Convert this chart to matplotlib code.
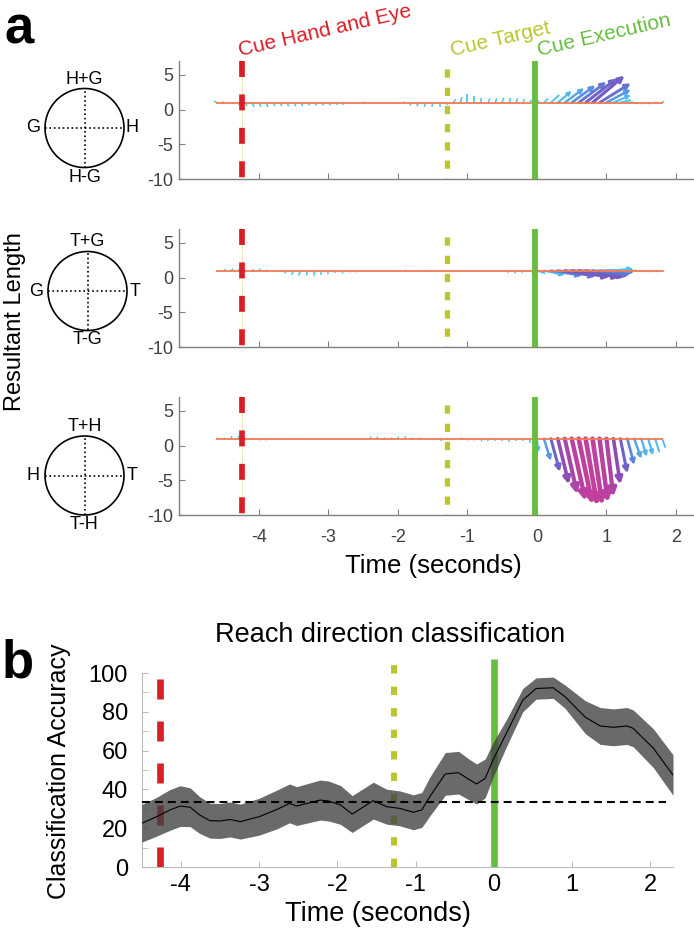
import numpy as np
import matplotlib
matplotlib.use('Agg')
import matplotlib.pyplot as plt
from matplotlib.colors import LinearSegmentedColormap, Normalize
from matplotlib.patches import FancyArrowPatch, Circle

plt.rcParams['font.family'] = ['Liberation Sans', 'DejaVu Sans']
plt.rcParams['axes.unicode_minus'] = False

# ---------------- panel a: resultant vectors ----------------
times = [-4.6, -4.5, -4.4, -4.3, -4.2, -4.1, -4.0, -3.9, -3.8, -3.7,
         -3.6, -3.5, -3.4, -3.3, -3.2, -3.1, -3.0, -2.9, -2.8, -2.7,
         -2.6, -2.5, -2.4, -2.3, -2.2, -2.1, -2.0, -1.9, -1.8, -1.7,
         -1.6, -1.5, -1.4, -1.3, -1.2, -1.1, -1.0, -0.9, -0.8, -0.7,
         -0.6, -0.5, -0.4, -0.3, -0.2, -0.1, 0.0, 0.1, 0.2, 0.3,
         0.4, 0.5, 0.6, 0.7, 0.8, 0.9, 1.0, 1.1, 1.2, 1.3,
         1.4, 1.5, 1.6, 1.7, 1.8]
baseline = 1.0

# hand vs gaze
hg_dx = [-0.05, -0.04, 0.0, 0.03, 0.03, 0.03, 0.03, 0.03, 0.03, 0.03,
         0.03, 0.03, 0.03, 0.03, 0.03, 0.03, 0.03, 0.03, 0.02, 0.0,
         0.0, 0.0, 0.0, 0.0, 0.0, 0.0, 0.0, -0.03, -0.03, -0.03,
         -0.02, -0.01, 0.0, 0.0, 0.03, 0.02, 0.0, 0.0, 0.0, 0.02,
         0.02, 0.02, 0.02, 0.02, 0.02, 0.02, 0.03, 0.06, 0.12, 0.2,
         0.28, 0.34, 0.4, 0.45, 0.46, 0.45, 0.35, 0.25, 0.15, 0.08,
         0.05, 0.03, 0.02, 0.02, 0.03]
hg_dy = [0.2, 0.1, 0.0, -0.4, -0.5, -0.6, -0.6, -0.6, -0.5, -0.5,
         -0.5, -0.5, -0.5, -0.4, -0.4, -0.4, -0.4, -0.3, -0.3, 0.0,
         0.1, 0.2, 0.0, 0.0, 0.0, 0.0, 0.0, 0.1, -0.4, -0.5,
         -0.6, -0.6, -0.6, -0.4, 0.5, 0.8, 1.3, 1.0, 0.7, 0.6,
         0.6, 0.7, 0.7, 0.6, 0.5, 0.4, 0.3, 0.6, 1.1, 1.7,
         2.1, 2.5, 3.0, 3.5, 3.9, 2.8, 1.9, 1.1, 0.4, 0.1,
         0.0, 0.0, 0.0, 0.1, 0.2]

# target vs gaze
tg_dx = [0.0, 0.02, 0.03, 0.02, 0.0, 0.02, 0.02, 0.0, 0.0, 0.0,
         -0.03, -0.03, -0.03, -0.02, -0.01, -0.01, -0.01, 0.0, 0.0, 0.0,
         0.0, 0.0, 0.0, 0.0, 0.0, 0.0, 0.0, 0.02, 0.0, 0.0,
         -0.02, -0.02, 0.0, 0.0, 0.0, 0.0, 0.0, 0.0, 0.0, 0.0,
         0.0, 0.0, -0.02, -0.02, -0.02, 0.03, 0.12, 0.3, 0.45, 0.55,
         0.65, 0.7, 0.68, 0.62, 0.55, 0.5, 0.4, 0.28, 0.12, 0.05,
         0.03, 0.02, 0.02, 0.02, 0.03]
tg_dy = [0.1, 0.2, 0.3, 0.2, 0.1, 0.2, 0.3, 0.2, 0.0, 0.0,
         -0.4, -0.6, -0.7, -0.7, -0.7, -0.6, -0.5, -0.4, -0.3, -0.2,
         -0.2, -0.1, -0.1, -0.1, 0.0, -0.1, 0.0, 0.1, 0.0, -0.1,
         -0.1, -0.1, 0.1, 0.1, 0.1, 0.1, 0.0, 0.1, 0.1, 0.0,
         0.1, 0.0, -0.3, -0.4, -0.3, -0.2, -0.4, -0.6, -0.7, -0.8,
         -0.9, -0.9, -0.8, -0.7, -0.5, -0.2, 0.1, 0.3, 0.2, 0.1,
         0.1, 0.0, 0.0, 0.0, -0.1]

# target vs hand
th_dx = [0.0, 0.0, 0.01, 0.01, 0.0, 0.0, 0.0, 0.0, 0.0, 0.0,
         0.0, 0.0, 0.0, 0.0, 0.0, 0.0, 0.0, 0.0, 0.0, 0.0,
         0.0, 0.0, 0.01, 0.01, 0.0, 0.0, 0.01, 0.01, 0.0, 0.0,
         0.02, 0.03, 0.03, 0.02, 0.0, 0.0, 0.0, 0.0, 0.0, 0.0,
         0.0, 0.0, 0.0, 0.0, 0.0, 0.0, 0.02, 0.1, 0.13, 0.16,
         0.18, 0.2, 0.2, 0.17, 0.14, 0.12, 0.1, 0.1, 0.1, 0.1,
         0.1, 0.08, 0.07, 0.06, 0.05]
th_dy = [0.2, 0.2, 0.4, 0.4, 0.1, -0.1, -0.2, -0.2, -0.1, 0.0,
         0.1, 0.0, 0.0, 0.1, 0.0, 0.1, 0.0, 0.1, 0.0, 0.1,
         0.0, 0.1, 0.3, 0.3, 0.2, 0.2, 0.3, 0.4, 0.3, 0.2,
         -0.1, -0.2, -0.3, -0.2, 0.0, 0.2, -0.2, -0.2, -0.3, -0.4,
         -0.4, -0.4, -0.5, -0.4, -0.4, -0.6, -2.0, -3.2, -4.8, -6.6,
         -8.0, -9.0, -9.5, -9.7, -9.6, -9.2, -8.4, -6.6, -5.0, -3.8,
         -2.9, -2.6, -2.4, -1.9, -1.3]

circle_labels = [('H+G', 'H-G', 'G', 'H'),
                 ('T+G', 'T-G', 'G', 'T'),
                 ('T+H', 'T-H', 'H', 'T')]

cue_names = ['Cue Hand and Eye', 'Cue Target', 'Cue Execution']
cue_times_a = [-4.25, -1.29, -0.03]
cue_times_b = [-4.27, -1.28, 0.0]
cue_colors = ['#D81E26', '#BBC62C', '#66BD3E']

# ---------------- panel b: classification accuracy ----------------
acc_t = [-4.5, -4.31, -4.14, -4.01, -3.88, -3.76, -3.63, -3.5, -3.37, -3.24,
         -3.0, -2.77, -2.61, -2.52, -2.22, -2.11, -1.96, -1.81, -1.54, -1.37,
         -1.2, -1.03, -0.92, -0.82, -0.62, -0.45, -0.32, -0.22, -0.11, -0.01,
         0.16, 0.37, 0.54, 0.76, 0.91, 1.17, 1.36, 1.53, 1.70, 1.78,
         2.04, 2.29]
acc_mean = [22.5, 25.9, 29.4, 31.4, 30.8, 26.8, 23.9, 23.7, 24.5, 23.4,
            25.9, 29.7, 32.8, 31.4, 34.5, 34.0, 32.0, 27.3, 34.2, 31.1,
            30.2, 28.2, 29.4, 36.2, 48.0, 48.6, 45.2, 42.8, 45.7, 55.2,
            68.9, 86.0, 92.0, 92.4, 87.8, 77.2, 72.7, 72.0, 72.7, 71.5,
            61.2, 47.4]
acc_err = [9.7, 10, 10.5, 10.5, 10, 9.5, 9, 9, 9, 9,
           9.5, 10, 10, 10, 10.3, 10.3, 10, 9.5, 9.5, 9,
           9, 9, 9, 10, 11, 11, 10.5, 10.3, 10, 9,
           7, 6, 5.5, 5.5, 6, 8.5, 9.5, 9.5, 9.5, 9.5,
           10, 10.4]
chance = 33.3
chance_span = [-4.5, 2.2]

W, H = 694, 931
fig = plt.figure(figsize=(W / 100, H / 100), dpi=100)

def px(x0, y_top, w, h):
    # pixel box (left, top, width, height) -> figure fraction rect
    return [x0 / W, 1 - (y_top + h) / H, w / W, h / H]

cmap = LinearSegmentedColormap.from_list('vec', [
    (0.0, '#4CCBF2'), (0.25, '#4DB9F0'), (0.38, '#5A8ADB'), (0.5, '#6E63C6'),
    (0.62, '#8550B8'), (0.8, '#A946A8'), (1.0, '#C63E9B')])
norm = Normalize(0, 10)


def draw_vectors(ax, dx, dy):
    for t, u, v in zip(times, dx, dy):
        mag = np.hypot(u * 8, v)
        if mag == 0:
            continue
        col = cmap(norm(mag))
        lw = 1.0 + 0.24 * mag
        if mag < 2:
            ax.plot([t, t + u], [baseline, baseline + v], color=col, lw=lw,
                    solid_capstyle='butt', zorder=2)
        else:
            arr = FancyArrowPatch((t, baseline), (t + u, baseline + v),
                                  arrowstyle='-|>,head_length=%.2f,head_width=%.2f' % (1.5 * lw, 0.75 * lw),
                                  mutation_scale=1, color=col, lw=lw,
                                  shrinkA=0, shrinkB=0, zorder=2)
            ax.add_patch(arr)


panel_tops = [61, 229, 397]
circle_centers = [(84.5, 128), (87.5, 291), (84.5, 475.5)]
series = [(hg_dx, hg_dy), (tg_dx, tg_dy), (th_dx, th_dy)]

for i, (dx, dy) in enumerate(series):
    ax = fig.add_axes(px(179, panel_tops[i], 514, 118))
    ax.set_xlim(-5.15, 2.245)
    ax.set_ylim(-10, 7)
    draw_vectors(ax, dx, dy)
    ax.plot(times, [baseline] * len(times), color='#F47A4F', lw=1.3, zorder=3)

    ax.plot([cue_times_a[0]] * 2, [7, -10], color='#EEE8B8', lw=0.7, zorder=3.5)
    ax.plot([cue_times_a[0]] * 2, [7, -10], color=cue_colors[0], lw=4.1,
            dashes=(2.8, 3.07), dash_capstyle='butt', zorder=4)
    ax.plot([cue_times_a[1]] * 2, [5.8, -10], color=cue_colors[1], lw=3.8,
            dashes=(1.55, 1.9), dash_capstyle='butt', zorder=4)
    ax.plot([cue_times_a[2]] * 2, [7, -10], color=cue_colors[2], lw=4.2,
            solid_capstyle='butt', zorder=4)

    for s in ['top', 'right']:
        ax.spines[s].set_visible(False)
    for s in ['left', 'bottom']:
        ax.spines[s].set_color('#808080')
        ax.spines[s].set_linewidth(1.0)
    ax.set_yticks([5, 0, -5, -10])
    ax.set_xticks([-4, -3, -2, -1, 0, 1, 2])
    ax.tick_params(direction='in', length=4, color='#808080', labelsize=13,
                   labelcolor='#404040', pad=4)
    if i < 2:
        ax.set_xticklabels([])
    else:
        ax.tick_params(axis='x', pad=10)

    # reference frame diagram
    cx, cy = circle_centers[i]
    axc = fig.add_axes(px(cx - 55, cy - 55, 110, 110))
    axc.set_xlim(-55, 55)
    axc.set_ylim(-55, 55)
    axc.axis('off')
    axc.add_patch(Circle((0, 0), 39.5, fill=False, lw=1.2, color='black'))
    axc.plot([-39.5, 39.5], [0, 0], ':', color='black', lw=1.2)
    axc.plot([0, 0], [-39.5, 39.5], ':', color='black', lw=1.2)
    top, bot, left, right = circle_labels[i]
    kw = dict(fontsize=13, ha='center', va='center', clip_on=False)
    axc.text(0, 49, top, **kw)
    axc.text(0, -49, bot, **kw)
    axc.text(-51, 0, left, **kw)
    axc.text(47.5, 0, right, **kw)

for name, x, col in zip(cue_names, [240.5, 452.5, 539], cue_colors):
    fig.text(x / W, 1 - 56.5 / H, name, color=col, fontsize=15, rotation=13,
             rotation_mode='anchor', ha='left', va='baseline')

fig.text(433 / W, 1 - 566 / H, 'Time (seconds)', fontsize=18.5, ha='center', va='center')
fig.text(15 / W, 1 - 322 / H, 'Resultant Length', fontsize=17, rotation=90,
         ha='center', va='center')
fig.text(4 / W, 1 - 44 / H, 'a', fontsize=38, fontweight='bold', ha='left', va='baseline')

# ---------------- panel b ----------------
axb = fig.add_axes(px(141.7, 673, 531.3, 194))
axb.set_xlim(-4.5, 2.29)
axb.set_ylim(0, 100)

acc_mean_a = np.array(acc_mean)
acc_err_a = np.array(acc_err)

axb.plot([cue_times_b[0]] * 2, [0, 98], color=cue_colors[0], lw=4.8,
         dashes=(3.0, 3.3), dash_capstyle='butt', zorder=2, clip_on=False)
axb.plot([cue_times_b[1]] * 2, [0, 104], color=cue_colors[1], lw=4.3,
         dashes=(1.4, 2.2), dash_capstyle='butt', zorder=2, clip_on=False)
axb.plot([cue_times_b[2]] * 2, [0, 107], color=cue_colors[2], lw=4.8,
         solid_capstyle='butt', zorder=2, clip_on=False)

axb.fill_between(acc_t, acc_mean_a - acc_err_a, acc_mean_a + acc_err_a,
                 color=(0.25, 0.25, 0.25), alpha=0.78, lw=0, zorder=3)
axb.plot(acc_t, acc_mean, color='black', lw=0.8, zorder=4)
axb.plot(chance_span, [chance, chance], color='black', lw=1.5,
         dashes=(3.8, 2.4), zorder=5)

for s in ['top', 'right']:
    axb.spines[s].set_visible(False)
for s in ['left', 'bottom']:
    axb.spines[s].set_color('#BBBBBB')
axb.set_xticks([-4, -3, -2, -1, 0, 1, 2])
axb.set_yticks([0, 20, 40, 60, 80, 100])
axb.set_yticks([10, 30, 50, 70, 90], minor=True)
axb.tick_params(which='both', direction='in', length=4, color='#BBBBBB',
                labelsize=17)
axb.tick_params(axis='y', pad=10)
axb.tick_params(axis='x', pad=5)

fig.text(390 / W, 1 - 642 / H, 'Reach direction classification', fontsize=19.5,
         ha='center', va='baseline')
fig.text(378 / W, 1 - 914 / H, 'Time (seconds)', fontsize=19.5, ha='center', va='center')
fig.text(59 / W, 1 - 771 / H, 'Classification Accuracy', fontsize=18, rotation=90,
         ha='center', va='center')
fig.text(2 / W, 1 - 678 / H, 'b', fontsize=38, fontweight='bold', ha='left', va='baseline')

fig.savefig('out.png', dpi=100)
